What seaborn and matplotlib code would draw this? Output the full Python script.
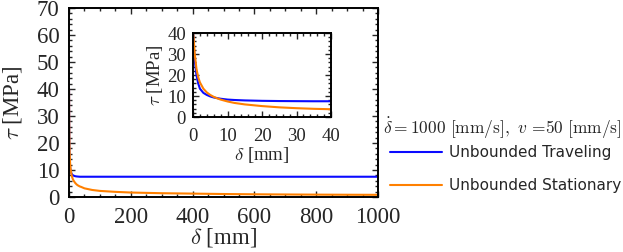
import numpy as np
import pandas as pd
import matplotlib
matplotlib.use("Agg")
import matplotlib.pyplot as plt
import seaborn as sns
from matplotlib.ticker import MultipleLocator

# values
delta = [0.05, 0.25, 0.5, 1, 1.5, 2, 3, 4, 5, 6, 7, 8, 10, 12, 15, 20, 25, 30, 35, 40,
         50, 75, 100, 150, 200, 300, 400, 500, 600, 700, 800, 900, 1000]
tau_traveling = [40, 33, 27, 20, 16, 13.5, 11.5, 10.5, 9.8, 9.3, 9.0, 8.7, 8.3, 8.1, 7.9, 7.7, 7.6, 7.55, 7.5, 7.5,
                 7.5, 7.5, 7.5, 7.5, 7.5, 7.5, 7.5, 7.5, 7.5, 7.5, 7.5, 7.5, 7.5]
tau_stationary = [40, 36, 30, 23, 19, 16.5, 13.5, 11.7, 10.5, 9.6, 8.9, 8.3, 7.4, 6.7, 6.0, 5.2, 4.6, 4.2, 3.9, 3.7,
                  3.2, 2.6, 2.25, 1.9, 1.65, 1.4, 1.25, 1.1, 1.0, 0.93, 0.87, 0.83, 0.8]
series_names = ["Unbounded Traveling", "Unbounded Stationary"]
series_colors = ["#0a0aff", "#ff8000"]
legend_title = r"$\dot{\delta}=1000\ [\mathrm{mm/s}],\ v\,=\!50\ [\mathrm{mm/s}]$"

df = pd.DataFrame({
    "delta": delta * 2,
    "tau": tau_traveling + tau_stationary,
    "case": [series_names[0]] * len(delta) + [series_names[1]] * len(delta),
})
palette = dict(zip(series_names, series_colors))

sns.set_style("ticks")
plt.rcParams["font.family"] = ["Liberation Serif", "DejaVu Serif"]
plt.rcParams["mathtext.fontset"] = "cm"


def style_axes(ax, xmaj, xmin, ymaj, ymin, size, xpad, ypad):
    ax.xaxis.set_major_locator(MultipleLocator(xmaj))
    ax.xaxis.set_minor_locator(MultipleLocator(xmin))
    ax.yaxis.set_major_locator(MultipleLocator(ymaj))
    ax.yaxis.set_minor_locator(MultipleLocator(ymin))
    ax.tick_params(which="both", direction="in", top=True, right=True, width=1.0,
                   labelsize=size)
    ax.tick_params(axis="x", which="both", pad=xpad)
    ax.tick_params(axis="y", which="both", pad=ypad)
    ax.tick_params(which="major", length=4)
    ax.tick_params(which="minor", length=2.5)
    for s in ax.spines.values():
        s.set_linewidth(1.4)
        s.set_color("black")


fig = plt.figure(figsize=(6.23, 2.52), dpi=100)

# -------------------------------
# Main axes
# -------------------------------
ax = fig.add_axes([0.1108, 0.2183, 0.4959, 0.75])
sns.lineplot(data=df, x="delta", y="tau", hue="case", palette=palette, lw=1.5, ax=ax)
ax.set_xlim(0, 1000)
ax.set_ylim(0, 70)
style_axes(ax, 200, 50, 10, 2, 16.5, 7, 7)
ax.set_xlabel(r"$\delta$ [mm]", fontsize=16.5, labelpad=-1)
ax.set_ylabel(r"$\tau$ [MPa]", fontsize=16.5, labelpad=9)

handles, labels = ax.get_legend_handles_labels()
ax.get_legend().remove()
fig.text(0.6148, 0.492, legend_title, fontsize=12.5, ha="left", va="center")
leg = fig.legend(handles, labels, loc="upper left", bbox_to_anchor=(0.626, 0.425),
                 frameon=False, fontsize=11, handlelength=3.4, handletextpad=0.45,
                 labelspacing=1.2, borderaxespad=0, borderpad=0)
for t in leg.get_texts():
    t.set_family("DejaVu Sans")

# -------------------------------
# Inset: first 40 mm
# -------------------------------
ins = fig.add_axes([0.3098, 0.5357, 0.2215, 0.3333])
sns.lineplot(data=df[df["delta"] <= 40], x="delta", y="tau", hue="case",
             palette=palette, lw=1.5, ax=ins, legend=False)
ins.set_xlim(0, 40)
ins.set_ylim(0, 40)
style_axes(ins, 10, 2, 10, 2, 13.5, 8, 5)
ins.set_xlabel(r"$\delta$ [mm]", fontsize=13.5, labelpad=0)
ins.set_ylabel(r"$\tau$ [MPa]", fontsize=13.5, labelpad=2)

fig.savefig("out.png", dpi=100)
